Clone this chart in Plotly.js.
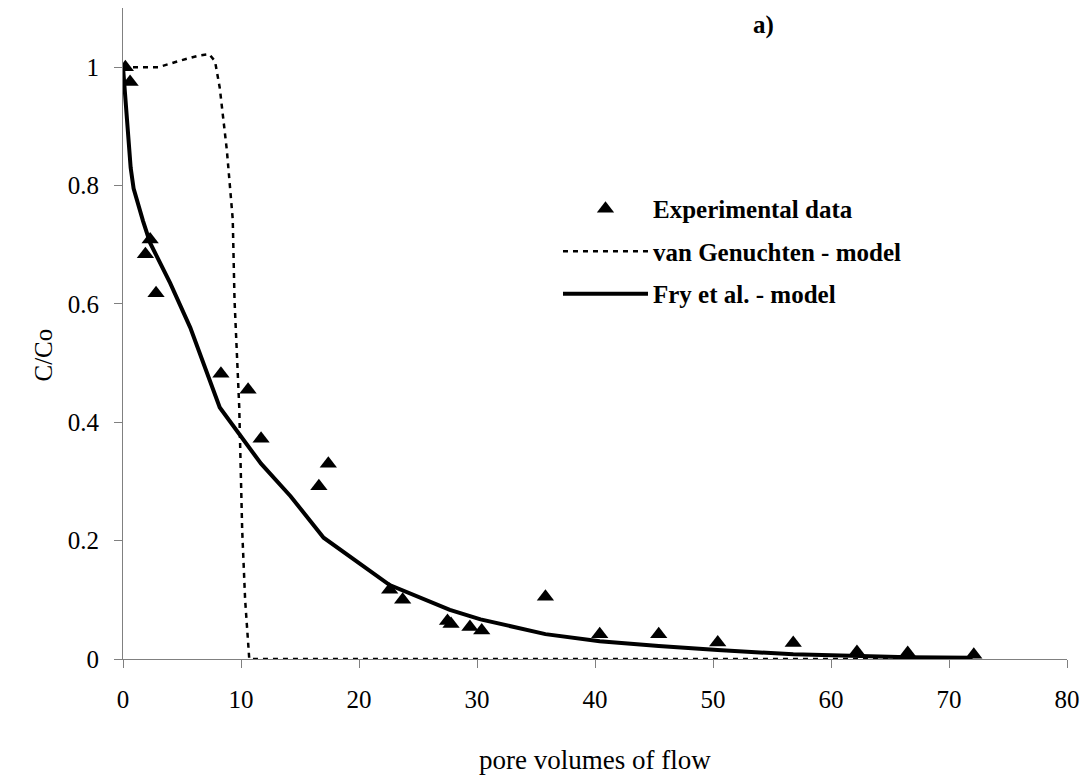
<!DOCTYPE html>
<html>
<head>
<meta charset="utf-8">
<script src="https://cdn.plot.ly/plotly-3.0.1.min.js"></script>
<style>html,body{margin:0;padding:0;background:#fff;}#chart{width:1086px;height:782px;}</style>
</head>
<body>
<div id="chart"></div>
<script>
// Experimental data
var expX = [0.2, 0.6, 1.9, 2.3, 2.8, 8.3, 10.6, 11.7, 16.6, 17.4, 22.6, 23.7, 27.5, 27.8, 29.4, 30.4, 35.8, 40.4, 45.4, 50.4, 56.8, 62.2, 66.5, 72.1];
var expY = [1.0, 0.975, 0.684, 0.709, 0.618, 0.482, 0.455, 0.372, 0.292, 0.33, 0.117, 0.1, 0.064, 0.059, 0.054, 0.048, 0.105, 0.042, 0.042, 0.028, 0.027, 0.012, 0.01, 0.007];

// van Genuchten model
var vgX = [0, 3, 5, 6.5, 7.3, 7.8, 8.2, 8.6, 8.8, 9.3, 9.45, 9.85, 10.1, 10.35, 10.7, 20, 40, 60, 72];
var vgY = [1.0, 1.0, 1.012, 1.02, 1.022, 1.01, 0.965, 0.9, 0.86, 0.743, 0.607, 0.426, 0.218, 0.1, 0.0, 0.0, 0.0, 0.0, 0.0];

// Fry et al. model
var fryX = [0, 0.15, 0.45, 0.65, 0.9, 1.3, 1.7, 2.3, 4.0, 5.7, 8.2, 11.7, 14.2, 17.0, 22.6, 27.7, 30.3, 35.8, 40.4, 45.4, 50.4, 56.8, 62.2, 66.5, 72];
var fryY = [1.0, 0.96, 0.895, 0.83, 0.795, 0.765, 0.74, 0.703, 0.635, 0.56, 0.425, 0.33, 0.275, 0.205, 0.125, 0.083, 0.067, 0.042, 0.03, 0.022, 0.015, 0.008, 0.005, 0.003, 0.002];

var xTicks = [0, 10, 20, 30, 40, 50, 60, 70, 80];
var yTicks = [0, 0.2, 0.4, 0.6, 0.8, 1];
var yTickText = ['0', '0.2', '0.4', '0.6', '0.8', '1'];

var serif = '"Liberation Serif", "Times New Roman", Times, serif';

var traces = [
  {x: expX, y: expY, type: 'scatter', mode: 'markers', name: 'Experimental data',
   marker: {symbol: 'triangle-up', size: 15, color: '#000'}, legendgroup: 'a', legendrank: 1, hoverinfo: 'skip'},
  {x: vgX, y: vgY, type: 'scatter', mode: 'lines', name: 'van Genuchten - model',
   line: {color: '#000', width: 2.5, dash: '5px,5px'}, legendgroup: 'b', legendrank: 2, hoverinfo: 'skip'},
  {x: fryX, y: fryY, type: 'scatter', mode: 'lines', name: 'Fry et al. - model',
   line: {color: '#000', width: 4}, legendgroup: 'c', legendrank: 3, hoverinfo: 'skip'}
];

var layout = {
  width: 1086, height: 782,
  margin: {l: 123, r: 19, t: 8, b: 123},
  paper_bgcolor: '#fff', plot_bgcolor: '#fff',
  font: {family: serif, color: '#000', size: 25},
  showlegend: true,
  legend: {x: 0.4608, y: 0.7266, xanchor: 'left', yanchor: 'top', bgcolor: 'rgba(0,0,0,0)',
           font: {family: serif, size: 25, color: '#000', weight: 'bold'},
           itemwidth: 85, tracegroupgap: 7, traceorder: 'grouped'},
  xaxis: {range: [0, 80], tickvals: xTicks, ticktext: xTicks.map(String), ticks: 'outside', ticklen: 8,
          tickcolor: '#808080', showline: true, linecolor: '#808080', linewidth: 1, showgrid: false,
          zeroline: false, ticklabelstandoff: 10, tickfont: {family: serif, size: 25}},
  yaxis: {range: [0, 1.1], tickvals: yTicks, ticktext: yTickText, ticks: 'outside', ticklen: 8,
          tickcolor: '#808080', showline: true, linecolor: '#808080', linewidth: 1, showgrid: false,
          zeroline: false, ticklabelstandoff: 10, tickfont: {family: serif, size: 25}},
  annotations: [
    {xref: 'paper', yref: 'paper', x: 0.5, y: -0.155, yanchor: 'middle', text: 'pore volumes of flow', showarrow: false,
     font: {family: serif, size: 27, color: '#000'}},
    {xref: 'paper', yref: 'paper', x: -0.1006, y: 0.467, text: 'C/Co', textangle: -90, showarrow: false,
     font: {family: serif, size: 25, color: '#000'}},
    {xref: 'paper', yref: 'paper', x: 0.692, y: 0.974, yanchor: 'middle', text: '<b>a)</b>', showarrow: false,
     font: {family: serif, size: 25, color: '#000'}}
  ]
};

Plotly.newPlot('chart', traces, layout, {displayModeBar: false, staticPlot: true});
</script>
</body>
</html>
